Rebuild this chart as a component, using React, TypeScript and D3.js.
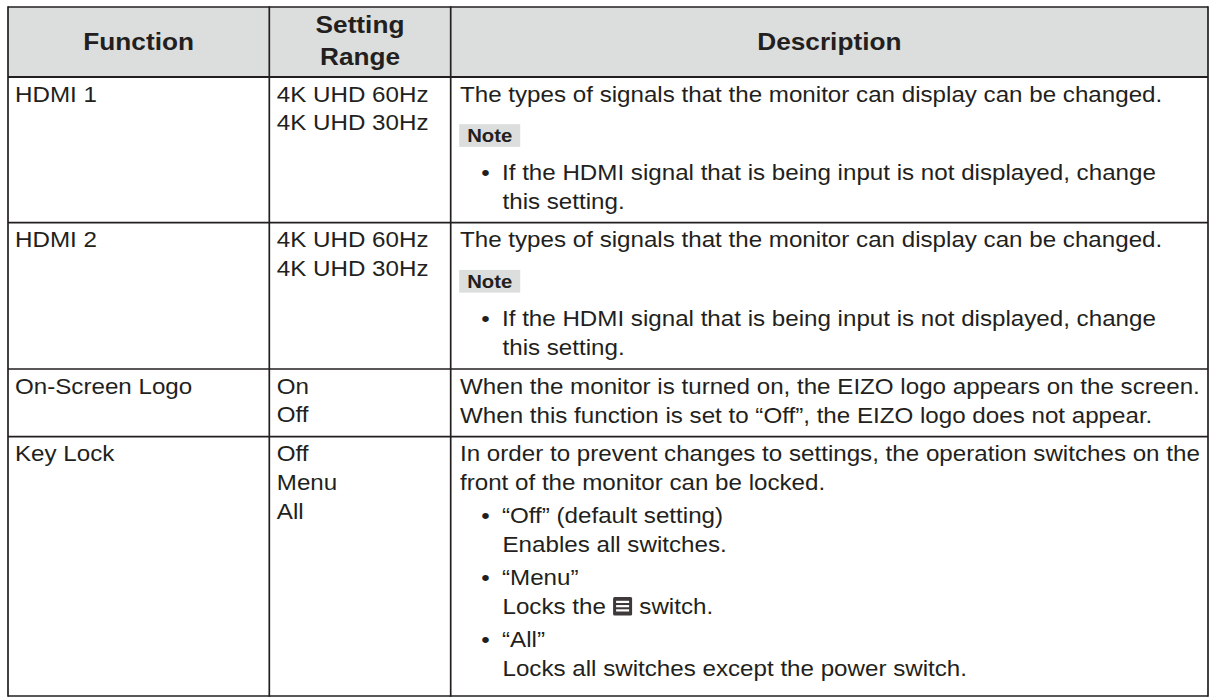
import React, { useEffect, useRef } from "react";
import * as d3 from "d3";

// ---- data ----
const headerLabels: string[][] = [["Function"], ["Setting", "Range"], ["Description"]];
const functionNames: string[] = ["HDMI 1", "HDMI 2", "On-Screen Logo", "Key Lock"];
const settingRanges: string[][] = [
  ["4K UHD 60Hz", "4K UHD 30Hz"],
  ["4K UHD 60Hz", "4K UHD 30Hz"],
  ["On", "Off"],
  ["Off", "Menu", "All"],
];
type Line = { kind: "text" | "note" | "bullet" | "cont"; text: string };
const descHdmi: Line[] = [
  { kind: "text", text: "The types of signals that the monitor can display can be changed." },
  { kind: "note", text: "Note" },
  { kind: "bullet", text: "If the HDMI signal that is being input is not displayed, change" },
  { kind: "cont", text: "this setting." },
];
const descLogo: Line[] = [
  { kind: "text", text: "When the monitor is turned on, the EIZO logo appears on the screen." },
  { kind: "text", text: "When this function is set to \u201cOff\u201d, the EIZO logo does not appear." },
];
const descKeyLock: Line[] = [
  { kind: "text", text: "In order to prevent changes to settings, the operation switches on the" },
  { kind: "text", text: "front of the monitor can be locked." },
  { kind: "bullet", text: "\u201cOff\u201d (default setting)" },
  { kind: "cont", text: "Enables all switches." },
  { kind: "bullet", text: "\u201cMenu\u201d" },
  { kind: "cont", text: "Locks the {icon} switch." },
  { kind: "bullet", text: "\u201cAll\u201d" },
  { kind: "cont", text: "Locks all switches except the power switch." },
];
const descriptions: Line[][] = [descHdmi, descHdmi, descLogo, descKeyLock];

// ---- layout ----
const W = 1211;
const H = 698;
const FONT = "'Liberation Sans', Arial, Helvetica, sans-serif";
const SX = 1.14;
const BODY = 21.2;
const HEAD = 23;
const NOTE = 17.8;
const INK = "#231f20";
const GRAY = "#dcdddd";

export default function App() {
  const ref = useRef<SVGSVGElement | null>(null);

  useEffect(() => {
    const svg = d3.select(ref.current);
    svg.selectAll("*").remove();

    const colX = d3.scaleOrdinal<number, number>().domain([0, 1, 2, 3]).range([8, 269.3, 450.7, 1208]);
    const rowY = d3.scaleOrdinal<number, number>().domain([0, 1, 2, 3, 4, 5]).range([7, 77, 222.7, 369, 436.7, 696]);

    const canvas = document.createElement("canvas");
    const ctx = canvas.getContext("2d")!;
    const measure = (t: string, size: number, weight = "normal") => {
      ctx.font = `${weight} ${size}px ${FONT}`;
      return ctx.measureText(t).width * SX;
    };

    const text = (
      g: d3.Selection<any, any, any, any>,
      t: string,
      x: number,
      y: number,
      size: number,
      weight = "normal",
      anchor = "start"
    ) =>
      g
        .append("text")
        .attr("transform", `translate(${x},${y}) scale(${SX},1)`)
        .attr("font-family", FONT)
        .attr("font-size", size)
        .attr("font-weight", weight)
        .attr("text-anchor", anchor)
        .attr("fill", INK)
        .attr("xml:space", "preserve")
        .style("white-space", "pre")
        .text(t);

    // header background
    svg
      .append("rect")
      .attr("x", colX(0))
      .attr("y", rowY(0))
      .attr("width", colX(3) - colX(0))
      .attr("height", rowY(1) - rowY(0))
      .attr("fill", GRAY);

    const g = svg.append("g");

    // header labels
    headerLabels.forEach((lines, c) => {
      const cx = (colX(c) + colX(c + 1)) / 2;
      if (lines.length === 1) text(g, lines[0], cx, 50, HEAD, "bold", "middle");
      else lines.forEach((l, i) => text(g, l, cx, 32.5 + i * 32.5, HEAD, "bold", "middle"));
    });

    const LINE = 29;
    const LINE2 = 28.6;
    const BGAP = 4;

    functionNames.forEach((fn, r) => {
      const top = rowY(r + 1);
      const first = top + 24.7;
      text(g, fn, colX(0) + 7, first, BODY);
      settingRanges[r].forEach((s, i) => text(g, s, colX(1) + 7.5, first + i * LINE2, BODY));

      let b = first;
      let noteBottom = -1;
      descriptions[r].forEach((ln, i) => {
        const prev = i > 0 ? descriptions[r][i - 1] : null;
        if (i > 0) {
          if (ln.kind === "note") {
            const boxTop = b + 22.5;
            g.append("rect")
              .attr("x", colX(2) + 8.5)
              .attr("y", boxTop)
              .attr("width", 61)
              .attr("height", 22.7)
              .attr("fill", GRAY);
            text(g, ln.text, colX(2) + 16.5, boxTop + 18, NOTE, "bold");
            noteBottom = boxTop + 22.7;
            return;
          }
          if (prev && prev.kind === "note") b = noteBottom + 33.3;
          else if (ln.kind === "bullet") b += LINE + BGAP;
          else b += LINE;
        }
        const x0 = colX(2) + 9.3;
        if (ln.kind === "bullet") {
          text(g, "\u2022", colX(2) + 30.5, b, BODY);
          text(g, ln.text, colX(2) + 51.3, b, BODY);
        } else if (ln.kind === "cont") {
          const xs = colX(2) + 51.8;
          if (ln.text.includes("{icon}")) {
            const [a, z] = ln.text.split("{icon}");
            text(g, a, xs, b, BODY);
            const ix = xs + measure(a, BODY) + 0.5;
            const iw = 19;
            const ih = 18.5;
            const iy = b - ih + 1;
            g.append("rect")
              .attr("x", ix)
              .attr("y", iy)
              .attr("width", iw)
              .attr("height", ih)
              .attr("rx", 1.5)
              .attr("fill", "#3e3a39");
            [0.27, 0.5, 0.73].forEach((f) =>
              g
                .append("line")
                .attr("x1", ix + 3)
                .attr("x2", ix + iw - 3)
                .attr("y1", iy + ih * f)
                .attr("y2", iy + ih * f)
                .attr("stroke", "#ffffff")
                .attr("stroke-width", 2.2)
            );
            text(g, z, ix + iw + 0.5, b, BODY);
          } else text(g, ln.text, xs, b, BODY);
        } else {
          text(g, ln.text, x0, b, BODY);
        }
      });
    });

    // grid lines
    const grid = svg.append("g").attr("stroke", INK).attr("stroke-width", 1.7).attr("fill", "none");
    d3.range(0, 6).forEach((r) =>
      grid
        .append("line")
        .attr("x1", colX(0))
        .attr("x2", colX(3))
        .attr("y1", rowY(r))
        .attr("y2", rowY(r))
        .attr("stroke-width", r === 1 ? 2.2 : 1.7)
    );
    d3.range(0, 4).forEach((c) =>
      grid
        .append("line")
        .attr("x1", colX(c))
        .attr("x2", colX(c))
        .attr("y1", rowY(0) - 0.85)
        .attr("y2", rowY(5) + 0.85)
    );
  }, []);

  return (
    <svg
      ref={ref}
      width={W}
      height={H}
      viewBox={`0 0 ${W} ${H}`}
      style={{ position: "absolute", left: 0, top: 0, background: "#ffffff" }}
    />
  );
}
